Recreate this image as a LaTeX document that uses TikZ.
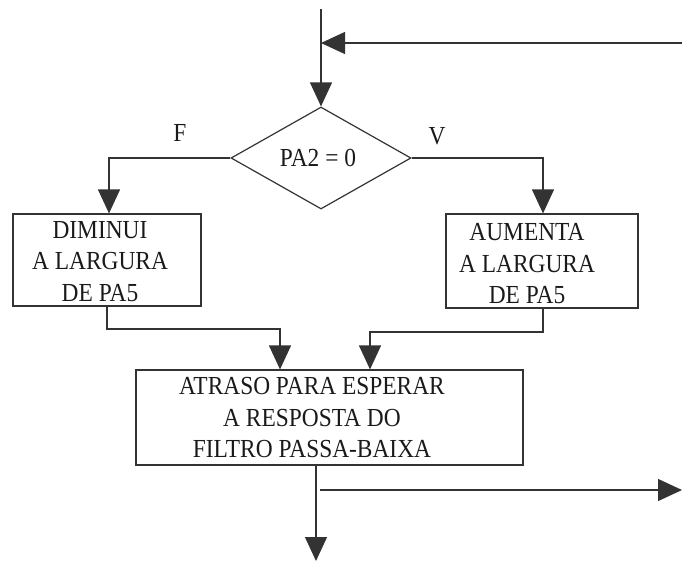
\documentclass[tikz,border=0pt]{standalone}
\usepackage{fontspec}
\setmainfont{Liberation Serif}[FakeStretch=0.9]
\usetikzlibrary{arrows.meta,shapes.geometric}

\definecolor{ink}{HTML}{1A1A1A}
\definecolor{wire}{HTML}{333333}

\tikzset{
  wireline/.style={draw=wire, line width=1.2pt},
  flow/.style={wireline, -{Triangle[length=24pt,width=22pt]}},
  box/.style={draw=wire, line width=1.2pt, rectangle, inner sep=0pt},
  decision/.style={draw=wire, line width=1.2pt, diamond, inner sep=0pt,
    minimum width=180pt, minimum height=102pt},
  txt/.style={text=ink, align=center, inner sep=0pt,
    font=\fontsize{26}{31.5}\selectfont},
}

\begin{document}
\begin{tikzpicture}[x=1pt, y=-1pt]
  \useasboundingbox (0,0) rectangle (682,565);

  % decision
  \node[decision] (dia) at (321,158) {};
  \node[txt] (diatext) at (318,158) {PA2 = 0};
  \node[txt] (flab) at (180,133) {F};
  \node[txt] (vlab) at (437,136) {V};

  % branch boxes
  \node[box, minimum width=188pt, minimum height=92pt] (lbox) at (107,260) {};
  \node[txt] (ltext) at (100,261.5) {DIMINUI\\A LARGURA\\DE PA5};
  \node[box, minimum width=192pt, minimum height=94pt] (rbox) at (542,261) {};
  \node[txt] (rtext) at (527,264) {AUMENTA\\A LARGURA\\DE PA5};

  % delay box
  \node[box, minimum width=387pt, minimum height=95pt] (big) at (329.5,417.5) {};
  \node[txt] (btext) at (312,418) {ATRASO PARA ESPERAR\\A RESPOSTA DO\\FILTRO PASSA-BAIXA};

  % loop entry and return
  \coordinate (entry) at (321,9);
  \coordinate (join) at (321,43);
  \coordinate (ret) at (682,43);
  \draw[flow] (entry) -- (dia.north);
  \draw[flow] (ret) -- (join);

  % branches
  \coordinate (lx) at (109,0);
  \coordinate (rx) at (543,0);
  \draw[flow] (dia.west) -| (lbox.north -| lx);
  \draw[flow] (dia.east) -| (rbox.north -| rx);

  % merge into the delay box
  \coordinate (lout) at (107,0);
  \coordinate (lin) at (280,0);
  \coordinate (rin) at (370,0);
  \draw[flow] (lbox.south -| lout) -- (107,329) -| (big.north -| lin);
  \draw[flow] (rbox.south -| rx) -- (543,332) -| (big.north -| rin);

  % exits
  \coordinate (dx) at (316,0);
  \coordinate (down) at (316,561);
  \coordinate (sidestart) at (320,490);
  \coordinate (sideend) at (682,490);
  \draw[flow] (big.south -| dx) -- (down);
  \draw[flow] (sidestart) -- (sideend);
\end{tikzpicture}
\end{document}
